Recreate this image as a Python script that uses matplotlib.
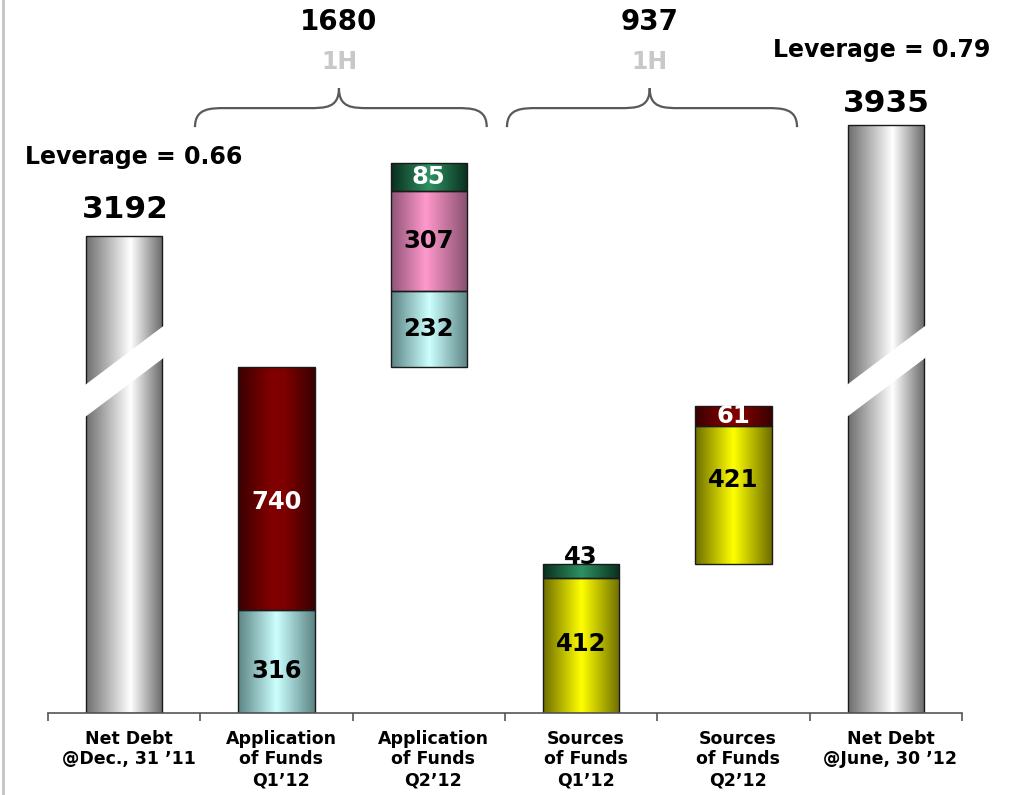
import numpy as np
import matplotlib
matplotlib.use('Agg')
import matplotlib.pyplot as plt
from matplotlib.colors import LinearSegmentedColormap
from matplotlib.patches import Polygon, PathPatch
from matplotlib.path import Path
from matplotlib.lines import Line2D

# Net debt bridge, 1H 2012 (values in EUR m)
CATEGORIES = ['Net Debt\n@Dec., 31 ’11',
              'Application\nof Funds\nQ1’12',
              'Application\nof Funds\nQ2’12',
              'Sources\nof Funds\nQ1’12',
              'Sources\nof Funds\nQ2’12',
              'Net Debt\n@June, 30 ’12']
NET_DEBT = [3192, 3935]
LEVERAGE = [0.66, 0.79]
APP_Q1 = [316, 740]
APP_Q2 = [232, 307, 85]
SRC_Q1 = [412, 43]
SRC_Q2 = [421, 61]
PERIOD = '1H'

# gradients (left edge -> centre -> right edge)
GRAY = [(0, '#6e6e6e'), (0.58, '#ffffff'), (1, '#686868')]
RED = [(0, '#3a0000'), (0.42, '#800000'), (0.6, '#800000'), (1, '#3a0000')]
CYAN = [(0, '#5c8484'), (0.5, '#ccffff'), (1, '#5c8484')]
PINK = [(0, '#8f5476'), (0.45, '#ff99cc'), (1, '#87506f')]
GREEN = [(0, '#0a2e1e'), (0.5, '#2e9262'), (1, '#0a2e1e')]
YELLOW = [(0, '#6e6e00'), (0.5, '#ffff00'), (1, '#6e6e00')]

PX_PER_UNIT = 0.3275
NET_DEBT_SCALE = 0.456   # net debt bars are drawn broken / compressed
W = 0.5

fig = plt.figure(figsize=(10.12, 7.95), dpi=100)
ax = fig.add_axes([48 / 1012, 82 / 795, 914 / 1012, 713 / 795])
ymax = 713 / PX_PER_UNIT
FONT = 'DejaVu Sans'


def grad_bar(x, bottom, height, stops, z=2):
    bar = ax.bar(x, height, W, bottom=bottom, facecolor='none',
                 edgecolor='#1a1a1a', linewidth=1.0, zorder=z + 0.5)[0]
    cmap = LinearSegmentedColormap.from_list('g', stops)
    g = np.linspace(0, 1, 256).reshape(1, -1)
    im = ax.imshow(g, cmap=cmap, aspect='auto', interpolation='bicubic',
                   extent=[x - W / 2, x + W / 2, bottom, bottom + height], zorder=z)
    im.set_clip_path(bar)
    return bar


def stack(x, values, colors, base=0, txt_colors=None, offsets=None):
    b = base
    for i, (v, c) in enumerate(zip(values, colors)):
        grad_bar(x, b, v, c)
        dy = offsets[i] if offsets else 0
        tc = txt_colors[i] if txt_colors else 'black'
        ax.annotate(str(v), (x, b + v / 2), xytext=(0, dy), textcoords='offset points',
                    ha='center', va='center', fontsize=17.5, fontweight='bold',
                    color=tc, family=FONT, zorder=6)
        b += v
    return b


# net debt bars with break band
for x, v in [(0, NET_DEBT[0]), (5, NET_DEBT[1])]:
    h = v * NET_DEBT_SCALE
    grad_bar(x, 0, h, GRAY)
    xl, xr = x - W / 2 - 0.02, x + W / 2 + 0.02
    c0, slope, half = 955 - 0.02 * 350, 350, 49
    cl, cr = c0, c0 + slope * (xr - xl)
    band = Polygon([(xl, cl - half), (xr, cr - half), (xr, cr + half), (xl, cl + half)],
                   closed=True, facecolor='white', edgecolor='none', zorder=4)
    ax.add_patch(band)

top_q1 = stack(1, APP_Q1, [CYAN, RED], txt_colors=['black', 'white'], offsets=[-7, -10])
top_q2 = stack(2, APP_Q2, [CYAN, PINK, GREEN], base=top_q1,
               txt_colors=['black', 'black', 'white'])
src_q1 = stack(3, SRC_Q1, [YELLOW, GREEN], offsets=[1, 10])
src_q2 = stack(4, SRC_Q2, [YELLOW, RED], base=src_q1,
               txt_colors=['black', 'white'], offsets=[11, 0])

# net debt values and leverage
ax.text(0.01, NET_DEBT[0] * NET_DEBT_SCALE + 55, str(NET_DEBT[0]), ha='center', va='baseline',
        fontsize=22.5, fontweight='bold', family=FONT)
ax.text(0.06, NET_DEBT[0] * NET_DEBT_SCALE + 220, f'Leverage = {LEVERAGE[0]:.2f}',
        ha='center', va='baseline', fontsize=17, fontweight='bold', family=FONT)
ax.text(5.0, NET_DEBT[1] * NET_DEBT_SCALE + 42, str(NET_DEBT[1]), ha='center', va='baseline',
        fontsize=22.5, fontweight='bold', family=FONT)
ax.text(4.97, NET_DEBT[1] * NET_DEBT_SCALE + 210, f'Leverage = {LEVERAGE[1]:.2f}',
        ha='center', va='baseline', fontsize=17, fontweight='bold', family=FONT)


def brace(xl, xm, xr, y_end, y_mid, y_tip):
    r = 0.2
    verts = [(xl, y_end), (xl, y_mid), (xl + r * 0.5, y_mid), (xl + r, y_mid),
             (xm - r, y_mid),
             (xm - r * 0.45, y_mid), (xm, y_mid), (xm, y_tip),
             (xm, y_mid), (xm + r * 0.45, y_mid), (xm + r, y_mid),
             (xr - r, y_mid),
             (xr - r * 0.5, y_mid), (xr, y_mid), (xr, y_end)]
    codes = [Path.MOVETO, Path.CURVE4, Path.CURVE4, Path.CURVE4,
             Path.LINETO,
             Path.CURVE4, Path.CURVE4, Path.CURVE4,
             Path.CURVE4, Path.CURVE4, Path.CURVE4,
             Path.LINETO,
             Path.CURVE4, Path.CURVE4, Path.CURVE4]
    ax.add_patch(PathPatch(Path(verts, codes), facecolor='none', edgecolor='#595959',
                           linewidth=1.6, clip_on=False, zorder=5))


y_end, y_mid, y_tip = 1789, 1847, 1908
brace(0.465, 1.41, 2.38, y_end, y_mid, y_tip)
brace(2.513, 3.45, 4.417, y_end, y_mid, y_tip)

for xm, total in [(1.41, top_q2), (3.45, src_q2)]:
    ax.text(xm, 2085, str(total), ha='center', va='baseline', fontsize=20,
            fontweight='bold', family=FONT)
    ax.text(xm, 1965, PERIOD, ha='center', va='baseline', fontsize=17,
            fontweight='bold', color='#c8c8c8', family=FONT)

# axis
ax.set_xlim(-0.5, 5.5)
ax.set_ylim(0, ymax)
for s in ['top', 'right', 'left']:
    ax.spines[s].set_visible(False)
ax.spines['bottom'].set_color('#555555')
ax.spines['bottom'].set_linewidth(1.2)
ax.set_yticks([])
ax.set_xticks(np.arange(-0.5, 6, 1))
ax.set_xticklabels([])
ax.tick_params(axis='x', length=6, width=1.2, color='#555555', direction='out')

for i, lab in enumerate(CATEGORIES):
    ax.annotate(lab, (i + 0.03, 0), xytext=(0, -12), textcoords='offset points',
                ha='center', va='top', fontsize=12.5, fontweight='bold',
                family=FONT, linespacing=1.2, annotation_clip=False)

fig.add_artist(Line2D([3 / 1012, 3 / 1012], [0, 1], color='#c4c4c4', linewidth=2))

fig.savefig('out.png', dpi=100)
